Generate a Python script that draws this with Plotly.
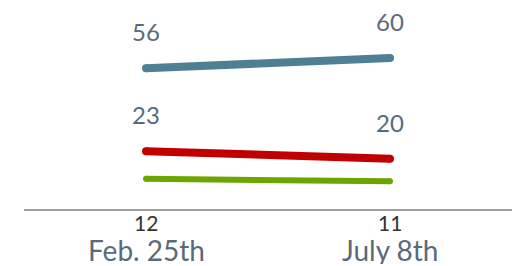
import plotly.graph_objects as go

categories = ["Feb. 25th", "July 8th"]
series_names = ["Blue", "Red", "Green"]
blue_values = [56, 60]
red_values = [23, 20]
green_values = [12, 11]

colors = {"Blue": "#4e7f95", "Red": "#c00000", "Green": "#6ca500"}
widths = {"Blue": 8, "Red": 8, "Green": 6}
values = {"Blue": blue_values, "Red": red_values, "Green": green_values}

label_color = "#596a7b"
font_family = "Lato, 'Open Sans', sans-serif"

fig = go.Figure()
for name in series_names:
    fig.add_trace(go.Scatter(
        x=categories, y=values[name], mode="lines+markers",
        line=dict(color=colors[name], width=widths[name]),
        marker=dict(color=colors[name], size=widths[name], line=dict(width=0)),
        showlegend=False, hoverinfo="skip",
    ))

annotations = []
# labels above blue and red lines
for name in ["Blue", "Red"]:
    for c, v in zip(categories, values[name]):
        annotations.append(dict(
            x=c, y=v, xref="x", yref="y", text=str(v), showarrow=False,
            yanchor="bottom", yshift=20,
            font=dict(family=font_family, size=24, color=label_color),
        ))
# green values below axis
for c, v in zip(categories, green_values):
    annotations.append(dict(
        x=c, y=0, xref="x", yref="paper", text=str(v), showarrow=False,
        yanchor="middle", yshift=-13, height=18,
        font=dict(family=font_family, size=21, color="#333333"),
    ))
# category labels
for c in categories:
    annotations.append(dict(
        x=c, y=0, xref="x", yref="paper", text=c, showarrow=False,
        yanchor="middle", yshift=-41, height=28,
        font=dict(family=font_family, size=28, color=label_color),
    ))

fig.update_layout(
    width=522, height=266,
    margin=dict(l=24, r=10, t=0, b=57),
    plot_bgcolor="white", paper_bgcolor="white",
    annotations=annotations,
    xaxis=dict(type="category", range=[-0.5, 1.5], showgrid=False, zeroline=False,
               showline=True, linecolor="#a0a0a0", linewidth=2,
               showticklabels=False, ticks=""),
    yaxis=dict(range=[0, 83.1], showgrid=False, zeroline=False, showline=False,
               showticklabels=False, ticks=""),
)

fig.write_html("out.html", config={"displayModeBar": False},
               post_script="document.body.style.margin='0';document.body.style.overflow='hidden';")
